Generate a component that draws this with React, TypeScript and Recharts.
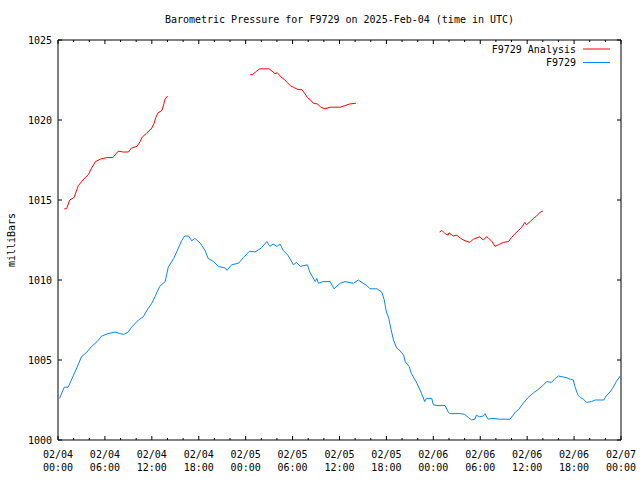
import React from 'react';
import { LineChart, Line, XAxis, YAxis, ReferenceArea } from 'recharts';

// ---------- data ----------
const chartTitle = 'Barometric Pressure for F9729 on 2025-Feb-04 (time in UTC)';
const yAxisTitle = 'milliBars';
const seriesNames = ['F9729 Analysis', 'F9729'];
const seriesColors = ['#ff0000', '#0a84ff'];

const xTickHours = [0, 6, 12, 18, 24, 30, 36, 42, 48, 54, 60, 66, 72];
const xTickDates = ['02/04', '02/04', '02/04', '02/04', '02/05', '02/05', '02/05', '02/05', '02/06', '02/06', '02/06', '02/06', '02/07'];
const xTickTimes = ['00:00', '06:00', '12:00', '18:00', '00:00', '06:00', '12:00', '18:00', '00:00', '06:00', '12:00', '18:00', '00:00'];
const xMinorHours = [2, 4, 8, 10, 14, 16, 20, 22, 26, 28, 32, 34, 38, 40, 44, 46, 50, 52, 56, 58, 62, 64, 68, 70];
const yTicks = [1000, 1005, 1010, 1015, 1020, 1025];

// hours since 02/04 00:00 UTC
const stationHours = [
  0.2, 0.8, 1.3, 1.8, 2.4, 3.0, 3.7, 4.3, 5.0, 5.6, 6.4, 7.3, 7.9, 8.4, 9.0, 9.4, 10.3, 10.9, 11.5, 12.0,
  12.4, 13.0, 13.7, 14.1, 14.8, 15.4, 15.8, 16.2, 16.7, 17.1, 17.5, 18.2, 18.8, 19.2, 19.9, 20.5, 21.4, 21.6, 22.2, 23.1,
  23.7, 24.5, 25.2, 26.0, 26.7, 27.1, 27.5, 28.0, 28.4, 28.8, 29.4, 30.1, 30.5, 31.0, 31.9, 32.2, 32.9, 33.1, 33.3, 33.9,
  34.8, 35.3, 36.1, 36.7, 37.8, 38.4, 39.0, 39.5, 39.9, 40.8, 41.4, 41.7, 42.0, 42.3, 42.6, 42.9, 43.3, 43.7, 44.2, 44.4,
  44.9, 45.2, 45.9, 46.5, 46.9, 47.1, 47.8, 48.0, 48.6, 49.5, 49.9, 50.1, 51.4, 52.0, 52.5, 52.9, 53.3, 53.5, 53.9, 54.4,
  54.6, 55.0, 55.5, 56.5, 57.8, 58.2, 58.5, 58.9, 59.5, 60.1, 60.8, 61.4, 62.1, 62.5, 63.1, 63.6, 64.0, 65.0, 65.5, 65.9,
  66.1, 66.5, 66.8, 67.2, 67.6, 68.2, 68.7, 69.8, 70.1, 70.6, 71.0, 71.4, 71.9,
];
const stationValues = [
  1002.6, 1003.3, 1003.3, 1003.85, 1004.5, 1005.2, 1005.5, 1005.85, 1006.15, 1006.5, 1006.65, 1006.75, 1006.65, 1006.6, 1006.75, 1007.05, 1007.5, 1007.7, 1008.2, 1008.55,
  1008.95, 1009.6, 1009.9, 1010.8, 1011.35, 1012.0, 1012.45, 1012.75, 1012.75, 1012.45, 1012.6, 1012.3, 1011.85, 1011.35, 1011.15, 1010.85, 1010.75, 1010.6, 1010.95, 1011.05,
  1011.4, 1011.8, 1011.75, 1012.0, 1012.4, 1012.1, 1012.25, 1012.1, 1012.25, 1011.85, 1011.55, 1010.95, 1011.1, 1010.85, 1010.95, 1010.5, 1009.9, 1010.1, 1009.8, 1009.9,
  1009.9, 1009.45, 1009.8, 1009.9, 1009.8, 1010.0, 1009.8, 1009.65, 1009.45, 1009.45, 1009.25, 1008.8, 1008.0, 1007.6, 1006.9, 1006.25, 1005.75, 1005.6, 1005.3, 1004.9,
  1004.6, 1004.15, 1003.55, 1002.9, 1002.4, 1002.6, 1002.6, 1002.2, 1002.15, 1002.15, 1001.75, 1001.65, 1001.65, 1001.6, 1001.4, 1001.25, 1001.3, 1001.55, 1001.45, 1001.5,
  1001.65, 1001.3, 1001.35, 1001.3, 1001.3, 1001.55, 1001.75, 1001.9, 1002.3, 1002.65, 1002.95, 1003.15, 1003.45, 1003.65, 1003.6, 1003.85, 1004.0, 1003.9, 1003.8, 1003.75,
  1003.35, 1002.8, 1002.65, 1002.55, 1002.35, 1002.4, 1002.5, 1002.5, 1002.75, 1003.0, 1003.3, 1003.65, 1004.0,
];

// analysis series: null marks a gap between segments
const analysisHours = [
  0.8, 1.1, 1.5, 2.05, 2.6, 3.2, 3.9, 4.3, 4.8, 5.4, 6.2, 7.0, 7.7, 8.35, 9.0, 9.4, 10.1, 10.5, 10.8, 11.3, 12.0, 12.3, 12.5, 12.8, 13.3, 13.7, 14.0,
  19.0,
  24.6, 24.9, 25.4, 25.8, 27.0, 27.5, 27.75, 28.05, 28.5, 28.9, 29.3, 29.7, 30.1, 30.7, 31.2, 31.5, 31.9, 32.3, 32.65, 33.2, 33.6, 34.15, 34.8, 36.1, 36.7, 37.3, 38.1,
  43.0,
  48.8, 49.1, 49.5, 49.9, 50.0, 50.55, 51.0, 51.5, 52.05, 52.7, 53.1, 53.9, 54.4, 54.8, 55.0, 55.5, 55.9, 56.3, 56.95, 57.6, 58.0, 58.45, 58.9, 59.3, 59.7, 59.9, 60.4, 60.8, 61.2, 61.7, 62.0,
];
const analysisValues = [
  1014.45, 1014.45, 1015.0, 1015.15, 1015.9, 1016.25, 1016.6, 1017.0, 1017.4, 1017.55, 1017.65, 1017.65, 1018.05, 1018.0, 1018.0, 1018.25, 1018.35, 1018.65, 1018.95, 1019.15, 1019.5, 1019.8, 1020.15, 1020.45, 1020.6, 1021.3, 1021.5,
  null,
  1022.85, 1022.85, 1023.05, 1023.2, 1023.2, 1023.0, 1022.9, 1022.95, 1022.7, 1022.55, 1022.35, 1022.15, 1022.05, 1021.9, 1021.9, 1021.7, 1021.4, 1021.25, 1021.05, 1021.0, 1020.8, 1020.7, 1020.8, 1020.8, 1020.9, 1021.0, 1021.05,
  null,
  1013.0, 1013.1, 1012.9, 1012.8, 1012.95, 1012.75, 1012.8, 1012.6, 1012.45, 1012.35, 1012.55, 1012.7, 1012.5, 1012.7, 1012.65, 1012.4, 1012.1, 1012.2, 1012.35, 1012.4, 1012.65, 1012.9, 1013.1, 1013.3, 1013.6, 1013.45, 1013.65, 1013.85, 1014.0, 1014.25, 1014.3,
];

const stationData = stationHours.map((h, i) => ({ h, p: stationValues[i] }));
const analysisData = analysisHours.map((h, i) => ({ h, p: analysisValues[i] }));

// ---------- layout ----------
const W = 640;
const H = 480;
const M = { top: 40, right: 19, bottom: 0, left: 0 };
const Y_AXIS_W = 58;
const X_AXIS_H = 40;
const PLOT_TOP = M.top;
const PLOT_RIGHT = W - M.right;
const FONT = '"DejaVu Sans Mono", "Liberation Mono", monospace';
const FS = 10;

const allXTicks = [...xTickHours, ...xMinorHours].sort((a, b) => a - b);

const XTick = (props: any) => {
  const { x, y, payload } = props;
  const idx = xTickHours.indexOf(payload.value);
  const major = idx >= 0;
  const len = major ? 4 : 2;
  return (
    <g>
      <line x1={x} x2={x} y1={y} y2={y - len} stroke="#000" strokeWidth={1} />
      <line x1={x} x2={x} y1={PLOT_TOP} y2={PLOT_TOP + len} stroke="#000" strokeWidth={1} />
      {major && (
        <text x={x} y={y + 14} textAnchor="middle" dominantBaseline="central" fontFamily={FONT} fontSize={FS} fill="#000">
          {xTickDates[idx]}
        </text>
      )}
      {major && (
        <text x={x} y={y + 27} textAnchor="middle" dominantBaseline="central" fontFamily={FONT} fontSize={FS} fill="#000">
          {xTickTimes[idx]}
        </text>
      )}
    </g>
  );
};

const YTick = (props: any) => {
  const { x, y, payload } = props;
  return (
    <g>
      <line x1={x} x2={x + 4} y1={y} y2={y} stroke="#000" strokeWidth={1} />
      <line x1={PLOT_RIGHT} x2={PLOT_RIGHT - 4} y1={y} y2={y} stroke="#000" strokeWidth={1} />
      <text x={x - 6} y={y} textAnchor="end" dominantBaseline="central" fontFamily={FONT} fontSize={FS} fill="#000">
        {payload.value}
      </text>
    </g>
  );
};

export default function App() {
  return (
    <div style={{ position: 'absolute', left: 0, top: 0, width: W, height: H, background: '#fff' }}>
      <LineChart width={W} height={H} margin={M}>
        <XAxis
          dataKey="h"
          type="number"
          domain={[0, 72]}
          ticks={allXTicks}
          interval={0}
          height={X_AXIS_H}
          axisLine={false}
          tickLine={false}
          tickSize={0}
          tickMargin={0}
          tick={<XTick />}
          allowDuplicatedCategory={false}
        />
        <YAxis
          type="number"
          domain={[1000, 1025]}
          ticks={yTicks}
          interval={0}
          width={Y_AXIS_W}
          axisLine={false}
          tickLine={false}
          tickSize={0}
          tickMargin={0}
          tick={<YTick />}
        />
        <ReferenceArea x1={0} x2={72} y1={1000} y2={1025} fill="none" stroke="#000" strokeWidth={1} />
        <Line
          data={analysisData}
          dataKey="p"
          name={seriesNames[0]}
          stroke={seriesColors[0]}
          strokeWidth={1}
          dot={false}
          connectNulls={false}
          isAnimationActive={false}
          type="linear"
        />
        <Line
          data={stationData}
          dataKey="p"
          name={seriesNames[1]}
          stroke={seriesColors[1]}
          strokeWidth={1}
          dot={false}
          isAnimationActive={false}
          type="linear"
        />
      </LineChart>
      <svg width={W} height={H} style={{ position: 'absolute', left: 0, top: 0, pointerEvents: 'none' }}>
        <text x={339.5} y={19} textAnchor="middle" dominantBaseline="central" fontFamily={FONT} fontSize={FS} fill="#000">
          {chartTitle}
        </text>
        <text
          x={11}
          y={240}
          transform="rotate(-90 11 240)"
          textAnchor="middle"
          dominantBaseline="central"
          fontFamily={FONT}
          fontSize={FS}
          fill="#000"
        >
          {yAxisTitle}
        </text>
        {seriesNames.map((name, i) => (
          <g key={name}>
            <text x={576} y={49 + i * 13.5} textAnchor="end" dominantBaseline="central" fontFamily={FONT} fontSize={FS} fill="#000">
              {name}
            </text>
            <line x1={583} x2={610} y1={49 + i * 13.5} y2={49 + i * 13.5} stroke={seriesColors[i]} strokeWidth={1} />
          </g>
        ))}
      </svg>
    </div>
  );
}
